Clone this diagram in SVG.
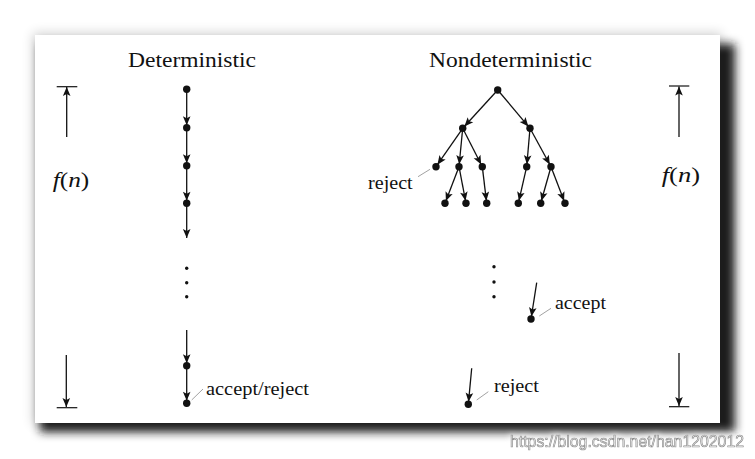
<svg xmlns="http://www.w3.org/2000/svg" width="755" height="459" viewBox="0 0 755 459">
<style>
.t{font-family:"Liberation Serif","DejaVu Serif",serif;fill:#111}
.e{stroke:#111;stroke-width:1.3;fill:none}
.n{fill:#111}
.ld{stroke:#8a8a8a;stroke-width:0.8;fill:none}
.bar{stroke:#111;stroke-width:1.2}
</style>
<defs>
<filter id="blurDark" x="-10%" y="-10%" width="120%" height="120%"><feGaussianBlur stdDeviation="5"/></filter>
<filter id="blurSoft" x="-10%" y="-10%" width="120%" height="120%"><feGaussianBlur stdDeviation="6"/></filter>
<filter id="glow" x="-5%" y="-40%" width="110%" height="180%"><feGaussianBlur in="SourceAlpha" stdDeviation="3" result="b"/><feFlood flood-color="#ffffff" flood-opacity="0.85"/><feComposite in2="b" operator="in" result="g"/><feMerge><feMergeNode in="g"/><feMergeNode in="g"/><feMergeNode in="SourceGraphic"/></feMerge></filter>
<marker id="ah" markerUnits="userSpaceOnUse" orient="auto" refX="11.5" refY="0" markerWidth="12" markerHeight="8" overflow="visible"><path d="M0,-3.8 L9,0 L0,3.8 L2,0 Z" fill="#111"/></marker>
<marker id="ah0" markerUnits="userSpaceOnUse" orient="auto" refX="9" refY="0" markerWidth="12" markerHeight="8" overflow="visible"><path d="M0,-3.8 L9,0 L0,3.8 L2,0 Z" fill="#111"/></marker>
</defs>
<rect x="0" y="0" width="755" height="459" fill="#ffffff"/>
<g id="frame">
<rect x="33" y="33" width="689" height="392" fill="#000" opacity="0.18" filter="url(#blurSoft)"/>
<rect x="40" y="44" width="695" height="388" fill="#1e1e1e" filter="url(#blurDark)"/>
<rect x="35" y="35" width="685" height="388" fill="#ffffff"/>
</g>
<g id="titles">
<text class="t" x="128" y="66.7" font-size="21" textLength="128" lengthAdjust="spacingAndGlyphs">Deterministic</text>
<text class="t" x="429" y="66.7" font-size="21" textLength="163" lengthAdjust="spacingAndGlyphs">Nondeterministic</text>
</g>
<g id="connectors">
<line class="e" x1="186.7" y1="89.3" x2="186.7" y2="127.7" marker-end="url(#ah)"/>
<line class="e" x1="186.7" y1="127.7" x2="186.7" y2="165.7" marker-end="url(#ah)"/>
<line class="e" x1="186.7" y1="165.7" x2="186.7" y2="203.3" marker-end="url(#ah)"/>
<line class="e" x1="186.7" y1="203.3" x2="186.7" y2="238" marker-end="url(#ah0)"/>
<line class="e" x1="186.7" y1="330" x2="186.7" y2="365.7" marker-end="url(#ah)"/>
<line class="e" x1="186.7" y1="365.7" x2="186.7" y2="403.3" marker-end="url(#ah)"/>
<line class="e" x1="497.7" y1="90" x2="462.7" y2="128.3" marker-end="url(#ah)"/>
<line class="e" x1="497.7" y1="90" x2="530" y2="128.3" marker-end="url(#ah)"/>
<line class="e" x1="462.7" y1="128.3" x2="436" y2="166.7" marker-end="url(#ah)"/>
<line class="e" x1="462.7" y1="128.3" x2="459" y2="166.7" marker-end="url(#ah)"/>
<line class="e" x1="462.7" y1="128.3" x2="482.3" y2="166.7" marker-end="url(#ah)"/>
<line class="e" x1="530" y1="128.3" x2="526.7" y2="166.7" marker-end="url(#ah)"/>
<line class="e" x1="530" y1="128.3" x2="551" y2="166.7" marker-end="url(#ah)"/>
<line class="e" x1="459" y1="166.7" x2="445" y2="203.3" marker-end="url(#ah)"/>
<line class="e" x1="459" y1="166.7" x2="466" y2="203.3" marker-end="url(#ah)"/>
<line class="e" x1="482.3" y1="166.7" x2="486.7" y2="203.3" marker-end="url(#ah)"/>
<line class="e" x1="526.7" y1="166.7" x2="518.3" y2="203.3" marker-end="url(#ah)"/>
<line class="e" x1="551" y1="166.7" x2="540.7" y2="203.3" marker-end="url(#ah)"/>
<line class="e" x1="551" y1="166.7" x2="565" y2="203.3" marker-end="url(#ah)"/>
<line class="e" x1="536.7" y1="282.7" x2="531" y2="319" marker-end="url(#ah)"/>
<line class="e" x1="471.7" y1="368.3" x2="468.3" y2="404.3" marker-end="url(#ah)"/>
<line class="e" x1="66.7" y1="137" x2="66.7" y2="87" marker-end="url(#ah0)"/>
<line class="e" x1="66.3" y1="355" x2="66.3" y2="407" marker-end="url(#ah0)"/>
<line class="e" x1="679" y1="137" x2="679" y2="86.5" marker-end="url(#ah0)"/>
<line class="e" x1="679" y1="353" x2="679" y2="406" marker-end="url(#ah0)"/>
<line class="ld" x1="191.7" y1="400" x2="203" y2="389"/>
<line class="ld" x1="418" y1="176.7" x2="430" y2="169.3"/>
<line class="ld" x1="539.3" y1="316" x2="551" y2="308.3"/>
<line class="ld" x1="476.7" y1="400" x2="488.3" y2="391.7"/>
</g>
<g id="fn-left">
<line class="bar" x1="56.7" y1="86.7" x2="77.3" y2="86.7"/>
<line class="bar" x1="56.7" y1="407.7" x2="77.3" y2="407.7"/>
<text class="t" x="52.7" y="187" font-size="21" textLength="36.6" lengthAdjust="spacingAndGlyphs"><tspan font-style="italic">f</tspan>(<tspan font-style="italic">n</tspan>)</text>
</g>
<g id="fn-right">
<line class="bar" x1="669" y1="86" x2="689.3" y2="86"/>
<line class="bar" x1="669" y1="406.7" x2="689.3" y2="406.7"/>
<text class="t" x="661.7" y="182" font-size="21" textLength="38.3" lengthAdjust="spacingAndGlyphs"><tspan font-style="italic">f</tspan>(<tspan font-style="italic">n</tspan>)</text>
</g>
<g id="det-nodes">
<circle class="n" cx="186.7" cy="89.3" r="3.7"/>
<circle class="n" cx="186.7" cy="127.7" r="3.7"/>
<circle class="n" cx="186.7" cy="165.7" r="3.7"/>
<circle class="n" cx="186.7" cy="203.3" r="3.7"/>
<circle class="n" cx="186.7" cy="268.3" r="1.7"/>
<circle class="n" cx="186.7" cy="282.7" r="1.7"/>
<circle class="n" cx="186.7" cy="296.7" r="1.7"/>
<circle class="n" cx="186.7" cy="365.7" r="3.7"/>
<circle class="n" cx="186.7" cy="403.3" r="3.7"/>
<text class="t" x="206" y="395" font-size="18" textLength="103" lengthAdjust="spacingAndGlyphs">accept/reject</text>
</g>
<g id="nondet-nodes">
<circle class="n" cx="497.7" cy="90" r="3.7"/>
<circle class="n" cx="462.7" cy="128.3" r="3.7"/>
<circle class="n" cx="530" cy="128.3" r="3.7"/>
<circle class="n" cx="436" cy="166.7" r="3.7"/>
<circle class="n" cx="459" cy="166.7" r="3.7"/>
<circle class="n" cx="482.3" cy="166.7" r="3.7"/>
<circle class="n" cx="526.7" cy="166.7" r="3.7"/>
<circle class="n" cx="551" cy="166.7" r="3.7"/>
<circle class="n" cx="445" cy="203.3" r="3.7"/>
<circle class="n" cx="466" cy="203.3" r="3.7"/>
<circle class="n" cx="486.7" cy="203.3" r="3.7"/>
<circle class="n" cx="518.3" cy="203.3" r="3.7"/>
<circle class="n" cx="540.7" cy="203.3" r="3.7"/>
<circle class="n" cx="565" cy="203.3" r="3.7"/>
<circle class="n" cx="494" cy="266.7" r="1.7"/>
<circle class="n" cx="494" cy="282" r="1.7"/>
<circle class="n" cx="494" cy="296.7" r="1.7"/>
<circle class="n" cx="531" cy="319" r="3.7"/>
<circle class="n" cx="468.3" cy="404.3" r="3.7"/>
<text class="t" x="368" y="189" font-size="18" textLength="44.7" lengthAdjust="spacingAndGlyphs">reject</text>
<text class="t" x="555" y="309" font-size="18" textLength="51" lengthAdjust="spacingAndGlyphs">accept</text>
<text class="t" x="494" y="392" font-size="18" textLength="45" lengthAdjust="spacingAndGlyphs">reject</text>
</g>
<g id="watermark">
<text x="510" y="447" font-family="Liberation Sans, Arial, sans-serif" font-size="17" textLength="234" lengthAdjust="spacingAndGlyphs" fill="#f0f0f0" stroke="#888888" stroke-width="0.7" filter="url(#glow)">https://blog.csdn.net/han1202012</text>
</g>
</svg>
